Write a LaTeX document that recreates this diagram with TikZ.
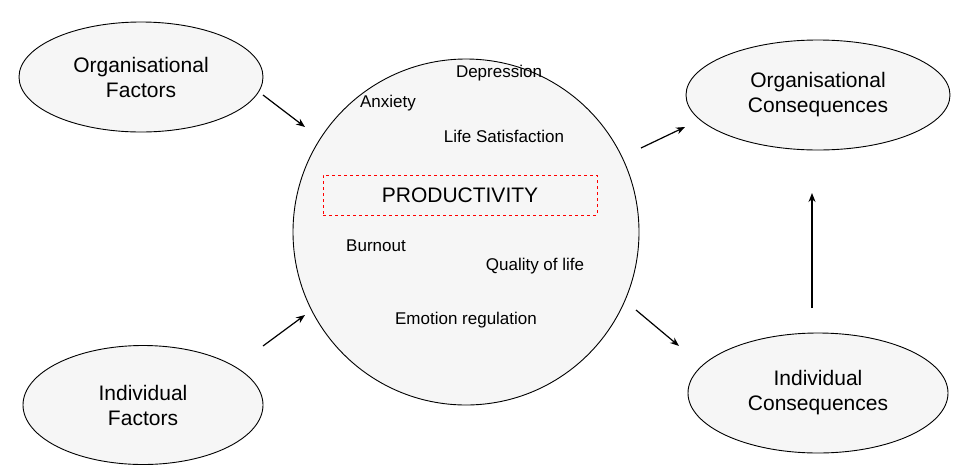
\documentclass[tikz,border=0pt]{standalone}
\usepackage{fontspec}
\setmainfont{Liberation Sans}
\usetikzlibrary{shapes.geometric,arrows.meta}
\begin{document}
\begin{tikzpicture}[x=1pt,y=-1pt,
  ell/.style={draw,ellipse,fill=gray!7,line width=0.9pt,align=center,font=\fontsize{21}{25}\selectfont,inner sep=0pt},
  word/.style={font=\fontsize{17}{20}\selectfont},
  arr/.style={-{Stealth[length=9pt,width=7pt]},line width=1.2pt}]
\useasboundingbox (0,0) rectangle (953,472);
\node[ell,minimum width=244,minimum height=110] (of) at (141,77) {Organisational\\Factors};
\node[ell,minimum width=240,minimum height=119] (if) at (143,405) {Individual\\Factors};
\node[draw,circle,fill=gray!7,line width=0.9pt,minimum size=346] (c) at (466,232) {};
\node[ell,minimum width=264,minimum height=110] (oc) at (818,95) {Organisational\\Consequences};
\node[ell,minimum width=260,minimum height=120] (ic) at (818,393) {Individual\\Consequences};
\node[draw=red,dashed,line width=1pt,minimum width=274,minimum height=40,font=\fontsize{21}{25}\selectfont] (p) at (460,195) {PRODUCTIVITY};
\node[word] (w1) at (499,73) {Depression};
\node[word] (w2) at (388,103) {Anxiety};
\node[word] (w3) at (504,136) {Life Satisfaction};
\node[word] (w4) at (376,246) {Burnout};
\node[word] (w5) at (535,266) {Quality of life};
\node[word] (w6) at (466,320) {Emotion regulation};
\coordinate (a1) at (263,95); \coordinate (b1) at (305,127);
\coordinate (a2) at (263,346); \coordinate (b2) at (305,315);
\coordinate (a3) at (641,148); \coordinate (b3) at (685,127);
\coordinate (a4) at (636,310); \coordinate (b4) at (679,346);
\coordinate (a5) at (812,308); \coordinate (b5) at (812,193);
\draw[arr] (a1) -- (b1);
\draw[arr] (a2) -- (b2);
\draw[arr] (a3) -- (b3);
\draw[arr] (a4) -- (b4);
\draw[arr] (a5) -- (b5);
\end{tikzpicture}
\end{document}
